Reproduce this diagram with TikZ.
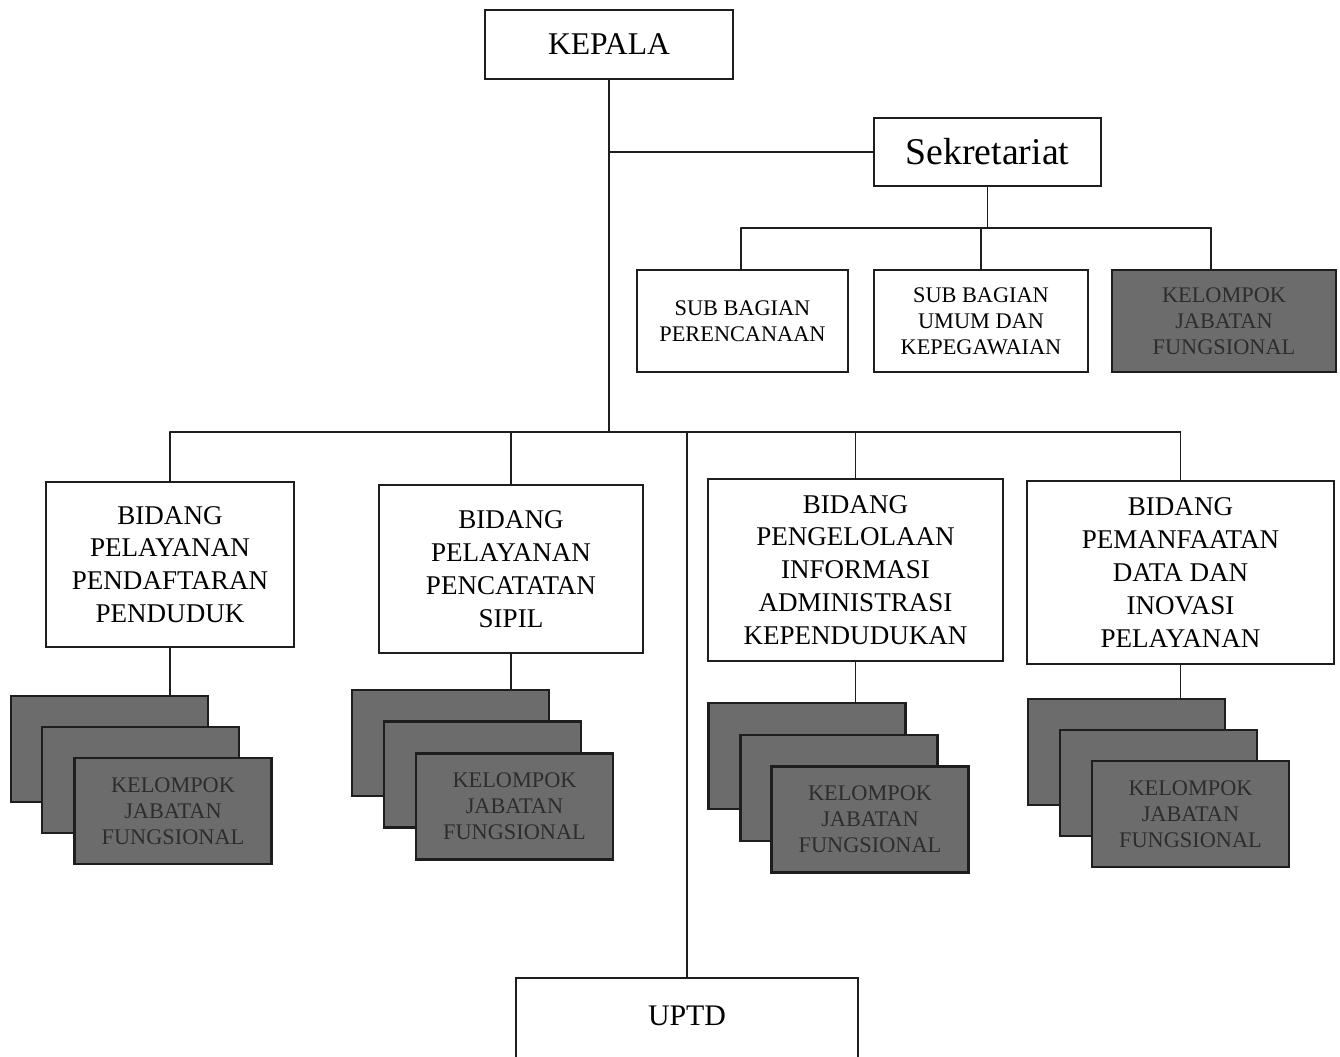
\documentclass[tikz,border=0pt]{standalone}
\usepackage{fontspec}
\setmainfont{Liberation Serif}
\usepackage{tikz}
\usepackage{xcolor}
\definecolor{kjgray}{RGB}{108,108,108}
\definecolor{kjtext}{RGB}{45,45,45}
\definecolor{lijn}{RGB}{30,30,30}

\begin{document}
\begin{tikzpicture}[x=0.02cm, y=-0.02cm, line cap=round]
  \tikzset{box/.style={draw=lijn, line width=1.2pt, fill=white, align=center, inner sep=0pt},
    bidbox/.style={box, font=\fontsize{15.4}{18.7}\selectfont},
    subbox/.style={box, font=\fontsize{12.7}{14.7}\selectfont},
    kjbox/.style={subbox, fill=kjgray, text=kjtext, minimum width=3.94cm, minimum height=2.12cm},
    conn/.style={draw=lijn, line width=1.1pt}}
  \clip (0,0) rectangle (1340,1056);
  % pimpinan
  \node[box, font=\fontsize{18}{21}\selectfont, minimum width=4.96cm, minimum height=1.38cm] (kepala) at (609,44.5) {KEPALA};
  \node[box, font=\fontsize{21.5}{24}\selectfont, minimum width=4.54cm, minimum height=1.36cm] (sekre) at (987.5,152) {Sekretariat};
  % sekretariat
  \node[subbox, minimum width=4.22cm, minimum height=2.04cm] (sub1) at (742.5,321) {SUB BAGIAN\\PERENCANAAN};
  \node[subbox, minimum width=4.28cm, minimum height=2.04cm] (sub2) at (981,321) {SUB BAGIAN\\UMUM DAN\\KEPEGAWAIAN};
  \node[kjbox, minimum width=4.48cm, minimum height=2.04cm] (kjs) at (1224,321) {KELOMPOK\\JABATAN\\FUNGSIONAL};
  % bidang
  \node[bidbox, minimum width=4.96cm, minimum height=3.3cm] (bid1) at (170,564.5) {BIDANG\\PELAYANAN\\PENDAFTARAN\\PENDUDUK};
  \node[bidbox, minimum width=5.28cm, minimum height=3.36cm] (bid2) at (511,569) {BIDANG\\PELAYANAN\\PENCATATAN\\SIPIL};
  \node[bidbox, minimum width=5.9cm, minimum height=3.64cm] (bid3) at (855.5,570) {BIDANG\\PENGELOLAAN\\INFORMASI\\ADMINISTRASI\\KEPENDUDUKAN};
  \node[bidbox, minimum width=6.14cm, minimum height=3.66cm] (bid4) at (1180.5,572.5) {BIDANG\\PEMANFAATAN\\DATA DAN\\INOVASI\\PELAYANAN};
  % kelompok jabatan fungsional
  \node[kjbox] (kja1) at (109.5,749) {};
  \node[kjbox] (kjb1) at (140.5,780) {};
  \node[kjbox] (kjc1) at (173,811) {KELOMPOK\\JABATAN\\FUNGSIONAL};
  \node[kjbox] (kja2) at (450.5,743) {};
  \node[kjbox] (kjb2) at (482.5,774.5) {};
  \node[kjbox] (kjc2) at (514.5,806.5) {KELOMPOK\\JABATAN\\FUNGSIONAL};
  \node[kjbox] (kja3) at (807,756) {};
  \node[kjbox] (kjb3) at (839,788) {};
  \node[kjbox] (kjc3) at (870,819.5) {KELOMPOK\\JABATAN\\FUNGSIONAL};
  \node[kjbox] (kja4) at (1126.5,752) {};
  \node[kjbox] (kjb4) at (1158.5,783) {};
  \node[kjbox] (kjc4) at (1190.5,814) {KELOMPOK\\JABATAN\\FUNGSIONAL};
  % uptd
  \node[box, font=\fontsize{17}{20}\selectfont, minimum width=6.84cm, minimum height=2.6cm, text depth=1.1cm] (uptd) at (687,1043) {UPTD};
  % garis
  \coordinate (bus) at (0,432);
  \coordinate (sbus) at (0,228);
  \coordinate (sl) at (741,228);
  \coordinate (sr) at (1211,228);
  \draw[conn] (kepala.south) -- (kepala.south |- bus);
  \draw[conn] (kepala.south |- sekre.west) -- (sekre.west);
  \draw[conn] (sekre.south) -- (sekre.south |- sbus);
  \draw[conn] (sl) -- (sr);
  \draw[conn] (sl) -- (sl |- sub1.north);
  \draw[conn] (sub2.north |- sbus) -- (sub2.north);
  \draw[conn] (sr) -- (sr |- kjs.north);
  \draw[conn] (bid1.north |- bus) -- (bid4.north |- bus);
  \draw[conn] (bid1.north |- bus) -- (bid1.north);
  \draw[conn] (bid2.north |- bus) -- (bid2.north);
  \draw[conn] (bid3.north |- bus) -- (bid3.north);
  \draw[conn] (bid4.north |- bus) -- (bid4.north);
  \draw[conn] (uptd.north |- bus) -- (uptd.north);
  \draw[conn] (bid1.south) -- (bid1.south |- kja1.north);
  \draw[conn] (bid2.south) -- (bid2.south |- kja2.north);
  \draw[conn] (bid3.south) -- (bid3.south |- kja3.north);
  \draw[conn] (bid4.south) -- (bid4.south |- kja4.north);
\end{tikzpicture}
\end{document}
